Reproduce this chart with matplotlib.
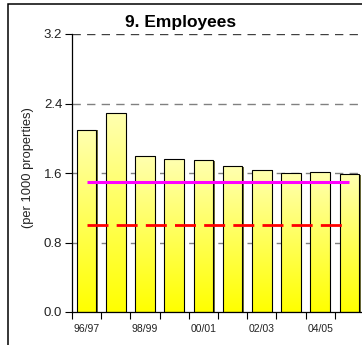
"""
Employees per 1000 properties, 1996/97 to 2005/06, with two reference levels.
"""

import numpy as np
import matplotlib
matplotlib.use('Agg')
import matplotlib.pyplot as plt
import matplotlib.transforms as mtransforms
from matplotlib.colors import LinearSegmentedColormap
from matplotlib.patches import Rectangle

plt.rcParams['font.family'] = ['Liberation Sans', 'DejaVu Sans']
plt.rcParams['lines.scale_dashes'] = False

# Data
years = ['96/97', '97/98', '98/99', '99/00', '00/01',
         '01/02', '02/03', '03/04', '04/05', '05/06']
employees = [2.10, 2.29, 1.80, 1.76, 1.745, 1.68, 1.64, 1.595, 1.61, 1.585]
upper_level = 1.5
lower_level = 1.0
y_ticks = [0.0, 0.8, 1.6, 2.4, 3.2]

W, H = 362, 345
fig = plt.figure(figsize=(W / 100, H / 100), dpi=100)

# plot area in pixel terms, the right edge runs slightly past the figure
left, top, bottom, width = 72, 34, 312, 292
ax = fig.add_axes([left / W, 1 - bottom / H, width / W, (bottom - top) / H])

x = np.arange(len(years))
bar_w = 0.67

# dashed gridlines behind the bars
for yv in y_ticks[1:]:
    col = '#404040' if yv == y_ticks[-1] else '#808080'
    ax.axhline(yv, color=col, lw=1.0, dashes=(6, 4.5), zorder=0.5)

# dark shadow on the right side of each bar
shadow_tr = mtransforms.offset_copy(ax.transData, fig=fig, x=1.5, y=-0.5, units='dots')
ax.bar(x, employees, width=bar_w, color='#6e6e3c', lw=0, zorder=1.5,
       transform=shadow_tr)

# bar outlines, filled with a vertical yellow gradient
bars = ax.bar(x, employees, width=bar_w, facecolor='none', edgecolor='black',
              lw=0.8, zorder=3)
cmap = LinearSegmentedColormap.from_list('yel', ['#ffff00', '#ffffb0'])
grad = np.linspace(0, 1, 256).reshape(-1, 1)
for xi, val, bar in zip(x, employees, bars):
    im = ax.imshow(grad, extent=[xi - bar_w / 2, xi + bar_w / 2, 0, val],
                   origin='lower', aspect='auto', cmap=cmap, zorder=2)
    im.set_clip_path(bar)

# reference levels
ax.plot([x[0], x[-1]], [upper_level, upper_level], color='#ff00ff', lw=2.2,
        solid_capstyle='butt', zorder=4)
ax.plot([x[0], x[-1]], [lower_level, lower_level], color='#ff0000', lw=2.0,
        dashes=(15.1, 5.9), dash_capstyle='butt', zorder=4)

ax.set_xlim(-0.5, len(years) - 0.5)
ax.set_ylim(0, 3.2)

ax.set_yticks(y_ticks)
ax.set_yticklabels([f'{v:.1f}' for v in y_ticks], fontsize=9.5, color='#222222')
ax.tick_params(axis='y', length=5, width=0.8, pad=2, direction='out')

# category labels on every other year, tick marks between categories
ax.set_xticks(x[::2])
ax.set_xticklabels(years[::2], fontsize=7.5, color='#222222')
ax.set_xticks(np.arange(len(years) + 1) - 0.5, minor=True)
ax.tick_params(axis='x', which='major', length=0, pad=9)
ax.tick_params(axis='x', which='minor', length=5, width=0.8, direction='out')

for side in ['top', 'right']:
    ax.spines[side].set_visible(False)
for side in ['left', 'bottom']:
    ax.spines[side].set_linewidth(0.9)
    ax.spines[side].set_zorder(5)

fig.text(180.5 / W, 1 - 23 / H, '9. Employees', ha='center', va='center',
         fontsize=12.5, fontweight='bold')
fig.text(27.5 / W, 1 - 168 / H, '(per 1000 properties)', rotation=90,
         ha='center', va='center', fontsize=9.3, color='#222222')

# outer frame, open to the right and bottom
fig.add_artist(Rectangle((8 / W, -0.2), 1.2, 1 - 4 / H + 0.2, transform=fig.transFigure,
                         fill=False, edgecolor='black', lw=1.1))

plt.savefig('out.png', dpi=100)
plt.close()
